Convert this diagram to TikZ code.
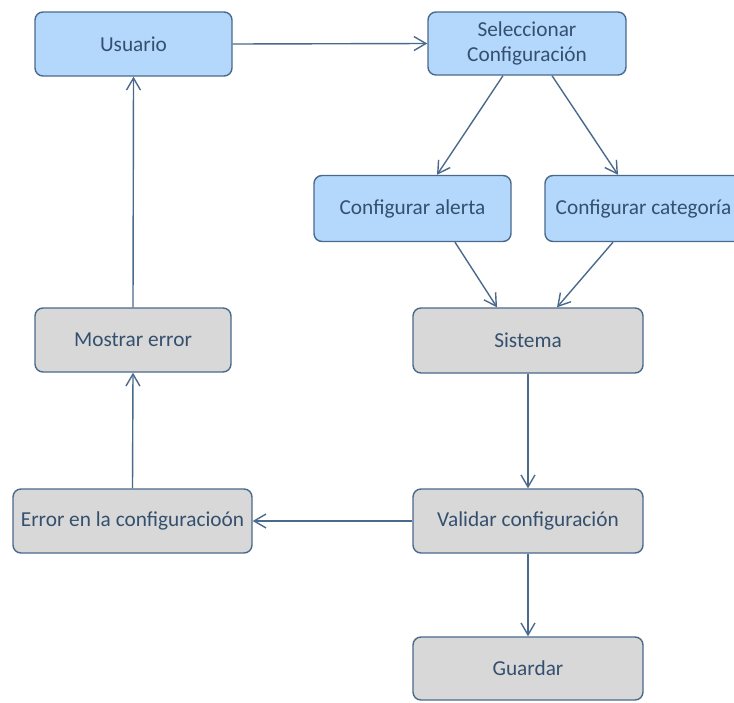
\documentclass[tikz,border=0pt]{standalone}
\usepackage{fontspec}
\setmainfont{Carlito}
\usetikzlibrary{arrows.meta}

\definecolor{boxblue}{HTML}{B4D7FC}
\definecolor{boxgrey}{HTML}{D8D8D8}
\definecolor{edgeblue}{HTML}{4A6A8C}
\definecolor{textblue}{HTML}{34506E}

\begin{document}
\begin{tikzpicture}[x=1pt, y=-1pt,
    >={Straight Barb[length=12pt,width=14pt]},
    every node/.style={font=\fontsize{21.3}{25}\selectfont, text=textblue},
    flowbox/.style={draw=edgeblue, line width=1.4pt, rounded corners=8pt,
      align=center, inner sep=2pt},
    bluebox/.style={flowbox, fill=boxblue},
    greybox/.style={flowbox, fill=boxgrey},
    flow/.style={->, draw=edgeblue, line width=1.4pt}]
  % Frame of the picture
  \clip (0,0) rectangle (734,702);

  % Upper row (blue)
  \node[bluebox, minimum width=197pt, minimum height=64pt] (usuario) at (133.5,44) {Usuario};
  \node[bluebox, minimum width=198pt, minimum height=63pt] (selec) at (527,43.5) {Seleccionar\\Configuración};
  \node[bluebox, minimum width=197pt, minimum height=66pt] (alerta) at (412.5,208.5) {Configurar alerta};
  \node[bluebox, minimum width=197pt, minimum height=66pt] (categ) at (643.5,208.5) {Configurar categoría};

  % Lower part (grey)
  \node[greybox, minimum width=230pt, minimum height=65pt] (sistema) at (528,340.5) {Sistema};
  \node[greybox, minimum width=196pt, minimum height=64pt] (mostrar) at (133,340) {Mostrar error};
  \node[greybox, minimum width=239pt, minimum height=64pt] (error) at (132.5,521) {Error en la configuracioón};
  \node[greybox, minimum width=230pt, minimum height=64pt] (validar) at (528,521) {Validar configuración};
  \node[greybox, minimum width=230pt, minimum height=63pt] (guardar) at (528,668.5) {Guardar};

  % Connectors
  \draw[flow] (usuario.east) -- (selec.west);
  \draw[flow] ([xshift=-24pt]selec.south) -- ([xshift=24.5pt]alerta.north);
  \draw[flow] ([xshift=25pt]selec.south) -- ([xshift=-25.5pt]categ.north);
  \draw[flow] ([xshift=42.5pt]alerta.south) -- ([xshift=-31pt]sistema.north);
  \draw[flow] ([xshift=-30.5pt]categ.south) -- ([xshift=29pt]sistema.north);
  \draw[flow] (sistema.south) -- (validar.north);
  \draw[flow] (validar.west) -- (error.east);
  \draw[flow] (validar.south) -- (guardar.north);
  \draw[flow] (error.north) -- (mostrar.south);
  \draw[flow] (mostrar.north) -- (usuario.south);
\end{tikzpicture}
\end{document}
